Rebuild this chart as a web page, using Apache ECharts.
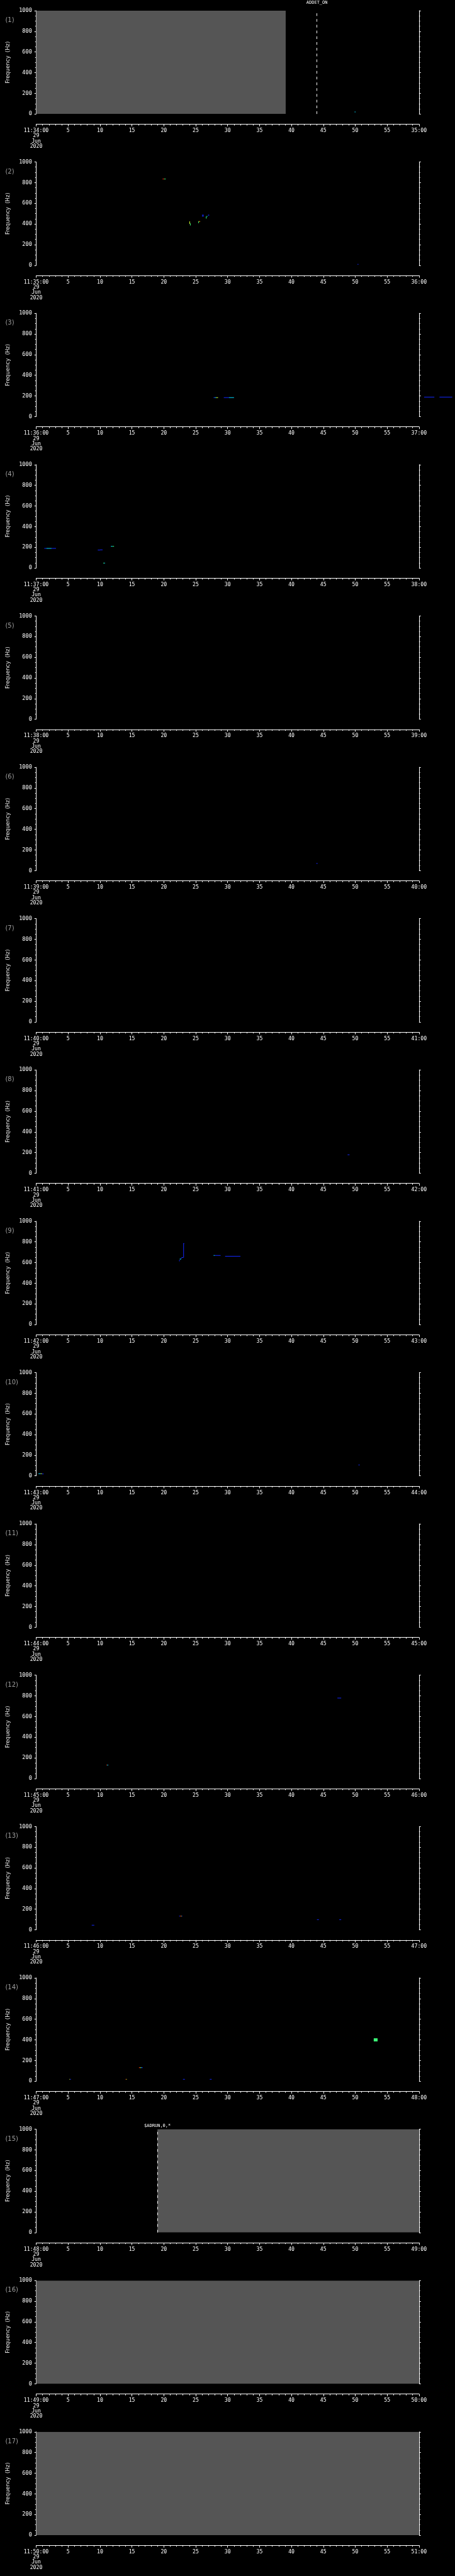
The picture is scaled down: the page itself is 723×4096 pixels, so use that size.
<!DOCTYPE html>
<html>
<head>
<meta charset="utf-8">
<script src="https://cdn.jsdelivr.net/npm/echarts@6/dist/echarts.min.js"></script>
<style>
  html, body { margin: 0; padding: 0; background: #000; }
  #main { width: 723px; height: 4096px; }
</style>
</head>
<body>
<div id="main"></div>
<script>
// one minute per panel, 29 Jun 2020
var startLabels = ['11:34:00', '11:35:00', '11:36:00', '11:37:00', '11:38:00', '11:39:00',
  '11:40:00', '11:41:00', '11:42:00', '11:43:00', '11:44:00', '11:45:00',
  '11:46:00', '11:47:00', '11:48:00', '11:49:00', '11:50:00'];
var endLabels = ['35:00', '36:00', '37:00', '38:00', '39:00', '40:00', '41:00', '42:00',
  '43:00', '44:00', '45:00', '46:00', '47:00', '48:00', '49:00', '50:00', '51:00'];
var dateLines = ['29', 'Jun', '2020'];

// no-data (gray) spans: [panel, t0 s, t1 s]
var grayBlocks = [[1, 0, 39.1], [15, 19, 60], [16, 0, 60], [17, 0, 60]];

// event markers: [panel, t s, text]
var eventMarks = [[1, 44, 'ADDET_ON'], [15, 19, '$ADRUN,0,*']];

// spectrogram pixels: [panel, t0 s, t1 s, f0 Hz, f1 Hz, intensity level 1..6]
var blips = [
  [1, 49.9, 50.05, 18, 22, 2],
  [2, 19.8, 20.05, 834, 838, 6], [2, 20.05, 20.3, 834, 838, 3],
  [2, 24.0, 24.1, 400, 425, 4], [2, 24.1, 24.2, 385, 405, 3],
  [2, 25.45, 25.7, 423, 427, 5], [2, 25.4, 25.5, 408, 425, 3],
  [2, 26.0, 26.1, 470, 490, 1], [2, 26.15, 26.25, 470, 490, 1],
  [2, 26.6, 26.7, 452, 472, 3], [2, 26.7, 26.85, 470, 476, 2],
  [2, 26.95, 27.1, 480, 490, 1],
  [2, 50.35, 50.5, 9, 13, 1],
  [3, 27.8, 28.0, 183, 187, 1], [3, 28.0, 28.2, 183, 187, 2], [3, 28.2, 28.5, 183, 187, 4],
  [3, 29.4, 30.2, 183, 187, 1], [3, 30.2, 31.0, 183, 187, 2],
  [3, 60.8, 62.4, 188, 192, 1], [3, 63.2, 65.2, 188, 192, 1],
  [4, 1.27, 1.6, 188, 192, 1], [4, 1.6, 2.4, 188, 192, 2], [4, 2.4, 3.1, 188, 192, 1],
  [4, 9.65, 10.0, 172, 176, 1], [4, 10.0, 10.4, 174, 178, 1],
  [4, 11.7, 11.95, 208, 212, 2], [4, 11.95, 12.2, 208, 212, 3],
  [4, 10.5, 10.65, 46, 50, 3], [4, 10.65, 10.8, 46, 50, 2],
  [6, 43.9, 44.1, 68, 72, 1],
  [8, 48.8, 49.1, 178, 182, 1],
  [9, 23.05, 23.12, 647, 786, 1], [9, 23.05, 23.2, 784, 788, 1],
  [9, 22.4, 22.5, 612, 625, 1], [9, 22.5, 22.7, 630, 638, 2],
  [9, 22.7, 22.8, 638, 648, 1], [9, 22.8, 23.05, 647, 652, 1],
  [9, 27.8, 28.0, 668, 672, 2], [9, 28.0, 28.9, 668, 672, 1],
  [9, 29.6, 32.0, 660, 664, 1],
  [10, 0.35, 0.7, 20, 24, 2], [10, 0.7, 0.9, 20, 24, 4], [10, 0.9, 1.16, 18, 22, 1],
  [10, 50.5, 50.7, 105, 109, 1],
  [12, 11.0, 11.12, 129, 133, 6], [12, 11.12, 11.3, 129, 133, 2],
  [12, 47.2, 47.8, 778, 782, 1],
  [13, 8.7, 9.1, 44, 48, 1],
  [13, 22.4, 22.55, 132, 136, 1], [13, 22.55, 22.7, 132, 136, 6],
  [13, 22.7, 22.8, 132, 136, 4], [13, 22.8, 22.9, 132, 136, 1],
  [13, 44.0, 44.3, 98, 102, 1], [13, 47.5, 47.8, 98, 102, 1],
  [14, 5.2, 5.3, 17, 21, 4], [14, 5.3, 5.45, 17, 21, 1],
  [14, 14.0, 14.1, 17, 21, 6], [14, 14.1, 14.2, 17, 21, 4],
  [14, 16.1, 16.25, 130, 134, 6], [14, 16.25, 16.4, 130, 134, 4],
  [14, 16.4, 16.55, 130, 134, 2], [14, 16.55, 16.7, 130, 134, 1],
  [14, 23.0, 23.3, 17, 21, 1],
  [14, 27.2, 27.5, 17, 21, 1],
  [14, 52.9, 53.5, 385, 415, 3]
];

var S = 0.705;
var levelColors = ['#555555', '#1428ff', '#00d8ff', '#3cff78', '#d8ff30', '#ff9a00', '#ff2a00'];
var labelGap = { 1: 9, 15: 2 };
var mono = 'DejaVu Sans Mono';

function rectItem(t0, t1, f0, f1, color, api) {
  var a = api.coord([t0, f1]);
  var b = api.coord([t1, f0]);
  return {
    type: 'rect',
    shape: { x: a[0], y: a[1], width: Math.max(b[0] - a[0], 1), height: Math.max(b[1] - a[1], 1) },
    style: { fill: color }
  };
}

function xFormatter(s, e) {
  return function (v) {
    if (v === 0) return [s].concat(dateLines).join('\n');
    if (v === 60) return e;
    return String(v);
  };
}

var grids = [], xAxes = [], yAxes = [], series = [], titles = [];
for (var i = 0; i < startLabels.length; i++) {
  var p = i + 1;
  var panelTop = (24 + i * 341.3) * S;
  grids.push({ left: 80.5 * S, top: panelTop, width: 864 * S, height: 233 * S });

  xAxes.push({
    type: 'value', gridIndex: i, min: 0, max: 60, interval: 5,
    position: 'bottom', offset: 23 * S,
    axisLine: { show: true, onZero: false, lineStyle: { color: '#fff', width: 1 } },
    axisTick: { show: true, inside: false, length: 5 * S, lineStyle: { color: '#fff' } },
    minorTick: { show: true, splitNumber: 5, length: 3 * S, lineStyle: { color: '#fff' } },
    splitLine: { show: false },
    axisLabel: {
      color: '#fff', fontFamily: mono, fontSize: 8.2, lineHeight: 8.3, margin: 9 * S,
      showMinLabel: true, showMaxLabel: true,
      formatter: xFormatter(startLabels[i], endLabels[i])
    }
  });

  yAxes.push({
    type: 'value', gridIndex: i, min: 0, max: 1000, interval: 200, position: 'left',
    name: 'Frequency  (Hz)', nameLocation: 'middle', nameGap: 57.5 * S, nameRotate: 90,
    nameTextStyle: { color: '#e8e8e8', fontFamily: 'DejaVu Sans', fontSize: 8.5 },
    axisLine: { show: true, onZero: false, lineStyle: { color: '#fff', width: 1 } },
    axisTick: { show: true, inside: false, length: 4 * S, lineStyle: { color: '#fff' } },
    minorTick: { show: true, splitNumber: 4, length: 2.5 * S, lineStyle: { color: '#fff' } },
    splitLine: { show: false },
    axisLabel: {
      color: '#fff', fontFamily: mono, fontSize: 8.6, margin: 9.5 * S,
      formatter: function (v) { return String(v); }
    }
  });
  yAxes.push({
    type: 'value', gridIndex: i, min: 0, max: 1000, interval: 200, position: 'right',
    axisLine: { show: true, onZero: false, lineStyle: { color: '#fff', width: 1 } },
    axisTick: { show: true, inside: false, length: 4 * S, lineStyle: { color: '#fff' } },
    minorTick: { show: true, splitNumber: 4, length: 2.5 * S, lineStyle: { color: '#fff' } },
    splitLine: { show: false },
    axisLabel: { show: false }
  });

  titles.push({
    text: '(' + p + ')', left: 12 * S, top: panelTop + 15 * S, padding: 0,
    textStyle: { color: '#9c9c9c', fontFamily: 'DejaVu Sans', fontSize: 10, fontWeight: 'normal' }
  });

  var gray = grayBlocks.filter(function (g) { return g[0] === p; })
    .map(function (g) { return [g[1], g[2]]; });
  if (gray.length) {
    series.push({
      type: 'custom', xAxisIndex: i, yAxisIndex: 2 * i, z: 1, silent: true, clip: true,
      data: gray, encode: { x: [0, 1] },
      renderItem: function (params, api) {
        return rectItem(api.value(0), api.value(1), 0, 1000, levelColors[0], api);
      }
    });
  }

  eventMarks.filter(function (m) { return m[0] === p; }).forEach(function (m) {
    series.push({
      type: 'line', xAxisIndex: i, yAxisIndex: 2 * i, z: 2, silent: true, data: [],
      markLine: {
        silent: true, symbol: ['none', 'none'],
        lineStyle: { color: '#fff', width: 1, type: [6 * S, 7 * S] },
        label: {
          show: true, position: 'end', distance: labelGap[p], color: '#fff',
          fontFamily: mono, fontSize: 7, formatter: m[2]
        },
        data: [{ xAxis: m[1] }]
      }
    });
  });

  var bits = blips.filter(function (b) { return b[0] === p; })
    .map(function (b) { return b.slice(1); });
  if (bits.length) {
    series.push({
      type: 'custom', xAxisIndex: i, yAxisIndex: 2 * i, z: 3, silent: true, clip: false,
      data: bits, encode: { x: [0, 1], y: [2, 3] },
      renderItem: function (params, api) {
        return rectItem(api.value(0), api.value(1), api.value(2), api.value(3),
          levelColors[api.value(4)], api);
      }
    });
  }
}

var chart = echarts.init(document.getElementById('main'));
chart.setOption({
  backgroundColor: '#000',
  animation: false,
  title: titles,
  grid: grids,
  xAxis: xAxes,
  yAxis: yAxes,
  series: series
});
</script>
</body>
</html>
